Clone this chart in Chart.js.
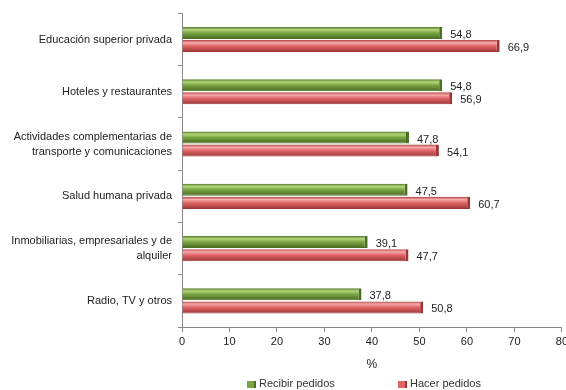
<!DOCTYPE html>
<html>
<head>
<meta charset="utf-8">
<script src="https://cdn.jsdelivr.net/npm/chart.js@4.4.1/dist/chart.umd.min.js"></script>
<style>
  html, body { margin: 0; padding: 0; background: #fff; overflow: hidden; }
  #wrap { position: relative; width: 571px; height: 390px; }
  #legend { position: absolute; top: 377px; left: 0; width: 566px; font: 11px "Liberation Sans", Arial, sans-serif; color: #333; }
  .item { position: absolute; top: 0; white-space: nowrap; }
  .box { display: inline-block; width: 7px; height: 7px; margin-right: 3px; vertical-align: -1px; border-right: 2px solid; }
</style>
</head>
<body>
<div id="wrap">
  <canvas id="chart" width="571" height="390"></canvas>
  <div id="legend"></div>
</div>
<script>
const categories = [
  "Educación superior privada",
  "Hoteles y restaurantes",
  ["Actividades complementarias de", "transporte y comunicaciones"],
  "Salud humana privada",
  ["Inmobiliarias, empresariales y de", "alquiler"],
  "Radio, TV y otros"
];
const recibirPedidos = [54.8, 54.8, 47.8, 47.5, 39.1, 37.8];
const hacerPedidos = [66.9, 56.9, 54.1, 60.7, 47.7, 50.8];
const seriesNames = ["Recibir pedidos", "Hacer pedidos"];
const xTicks = [0, 10, 20, 30, 40, 50, 60, 70, 80];

// colours for the "3D" bars: dark edge, highlight, body, shadow
const shades = [
  { dark: "#4b6f22", light: "#b2d77a", mid: "#7aa443", low: "#55792b" },
  { dark: "#9e3434", light: "#f7aaaa", mid: "#e06565", low: "#b04444" }
];

const CAT_PCT = 0.5;
const BAR_PCT = 0.92;

// vertical gradient for one bar, worked out from the category scale
function barFill(ctx) {
  const chart = ctx.chart;
  const y = chart.scales.y;
  const s = shades[ctx.datasetIndex];
  if (!y || y.height == null || ctx.dataIndex == null) return s.mid;
  const catH = y.height / categories.length;
  const size = catH * CAT_PCT;
  const slot = size / 2;
  const center = y.getPixelForValue(ctx.dataIndex) - size / 2 + slot * (ctx.datasetIndex + 0.5);
  const t = slot * BAR_PCT;
  const g = chart.ctx.createLinearGradient(0, center - t / 2, 0, center + t / 2);
  g.addColorStop(0, s.low);
  g.addColorStop(0.22, s.light);
  g.addColorStop(0.5, s.mid);
  g.addColorStop(0.85, s.low);
  g.addColorStop(1, s.dark);
  return g;
}

const fmt = v => v.toFixed(1).replace(".", ",");

// value labels to the right of each bar
const valueLabels = {
  id: "valueLabels",
  afterDatasetsDraw(chart) {
    const c = chart.ctx;
    c.save();
    c.font = '11px "Liberation Sans", Arial, sans-serif';
    c.fillStyle = "#222";
    c.textBaseline = "middle";
    chart.data.datasets.forEach((ds, i) => {
      chart.getDatasetMeta(i).data.forEach((bar, j) => {
        c.fillText(fmt(ds.data[j]), bar.x + 8, bar.y + 2);
      });
    });
    c.restore();
  }
};

new Chart(document.getElementById("chart"), {
  type: "bar",
  plugins: [valueLabels],
  data: {
    labels: categories,
    datasets: [
      {
        label: seriesNames[0],
        data: recibirPedidos,
        backgroundColor: barFill,
        borderColor: shades[0].dark,
        borderWidth: { top: 0, right: 3, bottom: 1, left: 0 },
        borderSkipped: false,
        categoryPercentage: CAT_PCT,
        barPercentage: BAR_PCT
      },
      {
        label: seriesNames[1],
        data: hacerPedidos,
        backgroundColor: barFill,
        borderColor: shades[1].dark,
        borderWidth: { top: 0, right: 3, bottom: 1, left: 0 },
        borderSkipped: false,
        categoryPercentage: CAT_PCT,
        barPercentage: BAR_PCT
      }
    ]
  },
  options: {
    indexAxis: "y",
    responsive: false,
    animation: false,
    layout: { padding: { top: 12, right: 0, bottom: 18, left: 0 } },
    plugins: {
      legend: { display: false },
      tooltip: { enabled: false }
    },
    scales: {
      x: {
        min: 0,
        max: 80,
        afterBuildTicks: s => { s.ticks = xTicks.map(v => ({ value: v })); },
        grid: { drawOnChartArea: false, drawTicks: true, tickLength: 5, color: "#888" },
        border: { color: "#888" },
        ticks: { color: "#222", font: { family: '"Liberation Sans", Arial, sans-serif', size: 11 }, padding: 3 },
        title: { display: true, text: "%", color: "#222", font: { family: '"Liberation Sans", Arial, sans-serif', size: 12 }, padding: { top: 5, bottom: 0 } },
        afterFit: s => { s.height = 45; }
      },
      y: {
        grid: { drawOnChartArea: false, drawTicks: true, tickLength: 4, offset: true, color: "#888" },
        border: { color: "#888" },
        ticks: { color: "#222", font: { family: '"Liberation Sans", Arial, sans-serif', size: 11, lineHeight: 1.35 }, padding: 6 },
        afterFit: s => { s.width = 182; }
      }
    }
  }
});

// legend below the plot
const legend = document.getElementById("legend");
const legendX = [247, 398];
seriesNames.forEach((name, i) => {
  const el = document.createElement("span");
  el.className = "item";
  el.style.left = legendX[i] + "px";
  el.innerHTML = '<span class="box" style="background:' + shades[i].mid + ';border-color:' + shades[i].dark + '"></span>' + name;
  legend.appendChild(el);
});
</script>
</body>
</html>
